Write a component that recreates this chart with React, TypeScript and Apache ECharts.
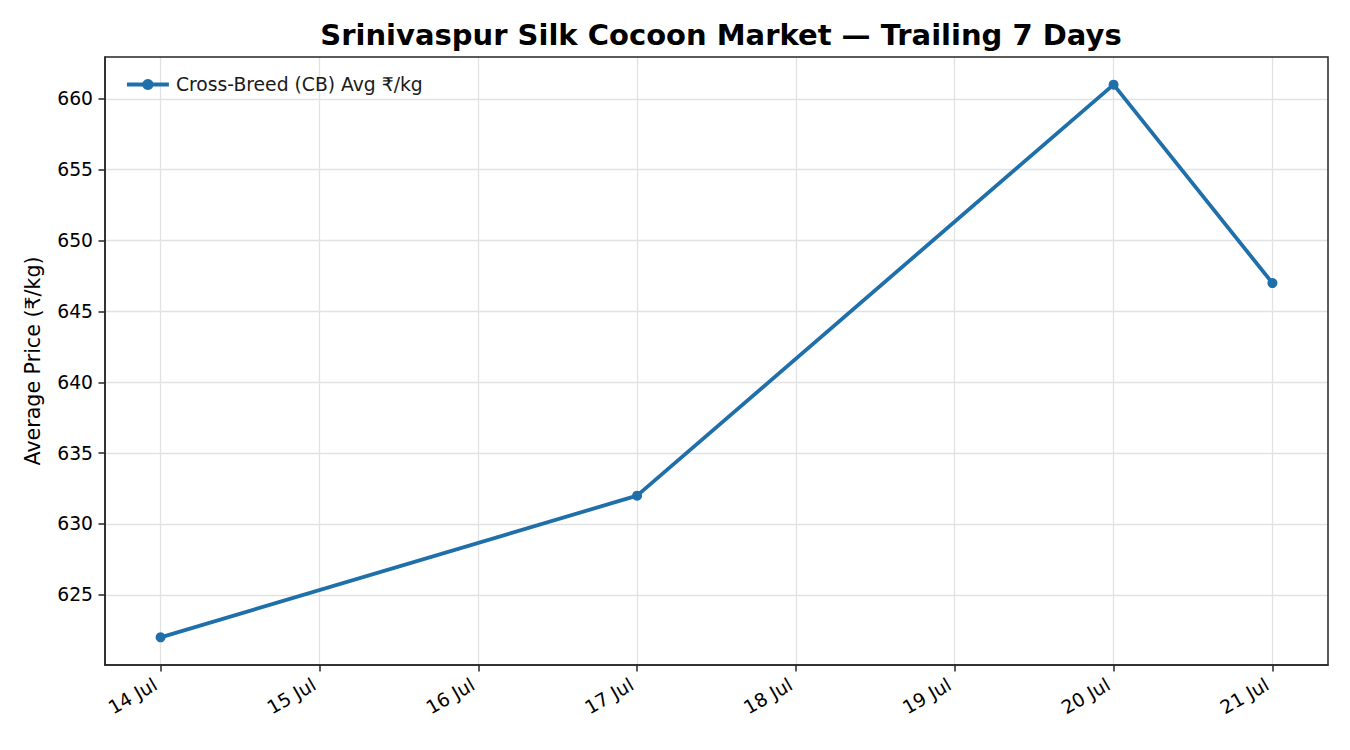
import React, { useEffect, useRef } from 'react'
import * as echarts from 'echarts'

const dayLabels = ['14 Jul', '15 Jul', '16 Jul', '17 Jul', '18 Jul', '19 Jul', '20 Jul', '21 Jul']
const dayIndex = [0, 3, 6, 7]
const cbPrice = [622, 632, 661, 647]
const yTicks = [625, 630, 635, 640, 645, 650, 655, 660]

const FONT = 'DejaVu Sans'
const AXIS = '#262626'
const GRIDC = '#e2e2e2'
const BLUE = '#1f6fab'

const App = () => {
    const chart: any = useRef()
    useEffect(() => {
        const myChart = echarts.init(chart.current, null, { renderer: 'svg' })
        const ticksX = dayLabels.map((_, i) => i)
        myChart.setOption({
            animation: false,
            backgroundColor: '#fff',
            textStyle: { fontFamily: FONT },
            title: {
                text: 'Srinivaspur Silk Cocoon Market — Trailing 7 Days',
                left: 716,
                top: 15,
                textAlign: 'center',
                textStyle: { fontFamily: FONT, fontSize: 29, fontWeight: 'bold', color: '#000' },
            },
            legend: {
                left: 120,
                top: 70,
                itemWidth: 42,
                itemHeight: 14,
                lineStyle: { width: 3.8 },
                textStyle: { fontFamily: FONT, fontSize: 18.75, color: '#1a1a1a', padding: [0, 0, 0, 2] },
                data: ['Cross-Breed (CB) Avg ₹/kg'],
            },
            grid: { left: 105, right: 22, top: 57, bottom: 85, containLabel: false },
            xAxis: {
                type: 'value',
                min: -0.35,
                max: 7.35,
                axisLine: { show: true, onZero: false, lineStyle: { color: AXIS, width: 1.5 } },
                axisTick: { show: true, length: 6.5, customValues: ticksX, lineStyle: { color: AXIS, width: 1.5 } },
                axisLabel: {
                    customValues: ticksX,
                    rotate: 30,
                    margin: 15,
                    padding: [0, 6, 0, 0],
                    fontFamily: FONT,
                    fontSize: 18.75,
                    color: '#000',
                    formatter: (v: number) => dayLabels[Math.round(v)] ?? '',
                },
                splitLine: { show: true, lineStyle: { color: GRIDC, width: 1.3 } },
            },
            yAxis: {
                type: 'value',
                min: 620.05,
                max: 662.95,
                name: 'Average Price (₹/kg)',
                nameLocation: 'middle',
                nameGap: 62,
                nameTextStyle: { fontFamily: FONT, fontSize: 20.6, color: '#000' },
                axisLine: { show: true, onZero: false, lineStyle: { color: AXIS, width: 1.5 } },
                axisTick: { show: true, length: 6.5, customValues: yTicks, lineStyle: { color: AXIS, width: 1.5 } },
                axisLabel: { customValues: yTicks, margin: 12, fontFamily: FONT, fontSize: 18.75, color: '#000' },
                splitLine: { show: true, lineStyle: { color: GRIDC, width: 1.3 } },
            },
            graphic: [
                {
                    type: 'rect',
                    shape: { x: 105, y: 57, width: 1223, height: 608 },
                    style: { fill: 'none', stroke: AXIS, lineWidth: 1.5 },
                    silent: true,
                    z: 10,
                },
            ],
            series: [
                {
                    type: 'line',
                    name: 'Cross-Breed (CB) Avg ₹/kg',
                    data: dayIndex.map((d, i) => [d, cbPrice[i]]),
                    symbol: 'circle',
                    symbolSize: 10,
                    showSymbol: true,
                    lineStyle: { color: BLUE, width: 3.8 },
                    itemStyle: { color: BLUE },
                },
            ],
        })
        return () => {
            myChart.dispose()
        }
    }, [])

    return <div ref={chart} style={{ position: 'fixed', left: 0, top: 0, width: 1350, height: 750 }} />
}

export default App
